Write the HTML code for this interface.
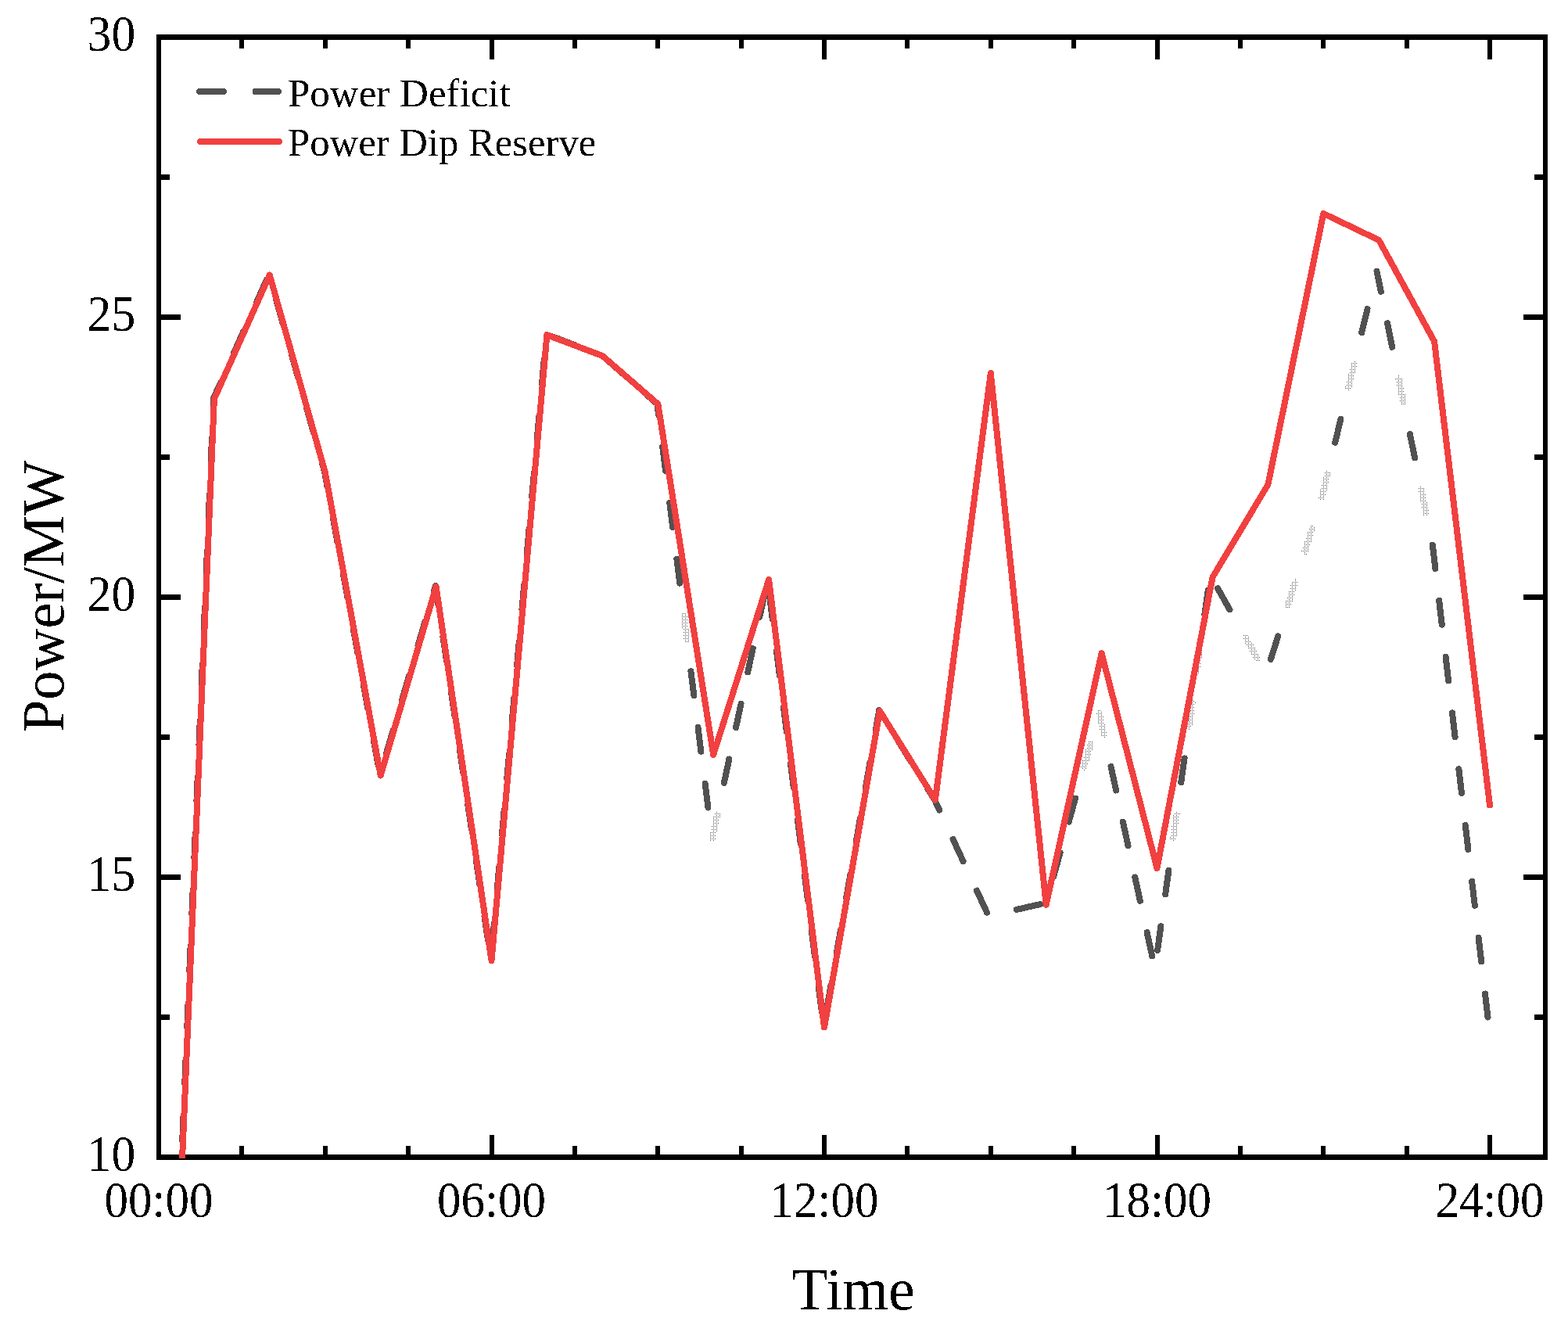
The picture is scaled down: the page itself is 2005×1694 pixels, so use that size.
<!DOCTYPE html>
<html lang="en">
<head>
<meta charset="utf-8">
<title>Power Deficit vs Power Dip Reserve</title>
<style>
html,body{margin:0;padding:0;background:#fff;}
body{width:2005px;height:1694px;overflow:hidden;position:relative;}
svg{position:absolute;left:0;top:0;display:block;}
text{font-family:"Liberation Serif",serif;fill:#000;}
.tick{font-size:61.6px;}
.title{font-size:76px;}
.leg{font-size:51px;}
</style>
</head>
<body>
<svg width="2005" height="1694" viewBox="0 0 2005 1694">
<defs>
<pattern id="dither" x="0" y="0" width="4" height="4" patternUnits="userSpaceOnUse">
<rect x="0" y="0" width="1" height="1" fill="#515151"/>
<rect x="2" y="0" width="1" height="1" fill="#515151"/>
<rect x="0" y="2" width="1" height="1" fill="#515151"/>
</pattern>
<filter id="crisp" x="-5%" y="-20%" width="110%" height="140%" color-interpolation-filters="sRGB"><feComponentTransfer><feFuncA type="discrete" tableValues="0 1"/></feComponentTransfer></filter>
<clipPath id="plot"><rect x="200" y="44" width="1779" height="1437"/></clipPath>
</defs>
<rect x="0" y="0" width="2005" height="1694" fill="#fff"/>

<g fill="#000" shape-rendering="crispEdges">
<rect x="200" y="44" width="1779" height="7"/>
<rect x="200" y="1476" width="1779" height="7"/>
<rect x="200" y="44" width="6" height="1439"/>
<rect x="1973" y="44" width="6" height="1439"/>
<rect x="306" y="51" width="6" height="11"/>
<rect x="306" y="1465" width="6" height="11"/>
<rect x="413" y="51" width="6" height="11"/>
<rect x="413" y="1465" width="6" height="11"/>
<rect x="519" y="51" width="6" height="11"/>
<rect x="519" y="1465" width="6" height="11"/>
<rect x="626" y="51" width="6" height="25"/>
<rect x="626" y="1451" width="6" height="25"/>
<rect x="732" y="51" width="6" height="11"/>
<rect x="732" y="1465" width="6" height="11"/>
<rect x="838" y="51" width="6" height="11"/>
<rect x="838" y="1465" width="6" height="11"/>
<rect x="945" y="51" width="6" height="11"/>
<rect x="945" y="1465" width="6" height="11"/>
<rect x="1051" y="51" width="6" height="25"/>
<rect x="1051" y="1451" width="6" height="25"/>
<rect x="1157" y="51" width="6" height="11"/>
<rect x="1157" y="1465" width="6" height="11"/>
<rect x="1264" y="51" width="6" height="11"/>
<rect x="1264" y="1465" width="6" height="11"/>
<rect x="1370" y="51" width="6" height="11"/>
<rect x="1370" y="1465" width="6" height="11"/>
<rect x="1477" y="51" width="6" height="25"/>
<rect x="1477" y="1451" width="6" height="25"/>
<rect x="1583" y="51" width="6" height="11"/>
<rect x="1583" y="1465" width="6" height="11"/>
<rect x="1689" y="51" width="6" height="11"/>
<rect x="1689" y="1465" width="6" height="11"/>
<rect x="1796" y="51" width="6" height="11"/>
<rect x="1796" y="1465" width="6" height="11"/>
<rect x="1902" y="51" width="6" height="25"/>
<rect x="1902" y="1451" width="6" height="25"/>
<rect x="206" y="1297" width="11" height="7"/>
<rect x="1962" y="1297" width="11" height="7"/>
<rect x="206" y="1118" width="25" height="7"/>
<rect x="1948" y="1118" width="25" height="7"/>
<rect x="206" y="939" width="11" height="7"/>
<rect x="1962" y="939" width="11" height="7"/>
<rect x="206" y="760" width="25" height="7"/>
<rect x="1948" y="760" width="25" height="7"/>
<rect x="206" y="581" width="11" height="7"/>
<rect x="1962" y="581" width="11" height="7"/>
<rect x="206" y="402" width="25" height="7"/>
<rect x="1948" y="402" width="25" height="7"/>
<rect x="206" y="223" width="11" height="7"/>
<rect x="1962" y="223" width="11" height="7"/>
</g>
<g fill="none" stroke-width="8" stroke-linecap="round" stroke-linejoin="round" shape-rendering="crispEdges" clip-path="url(#plot)">
<path stroke="url(#dither)" d="M874.4 786.56L878.28 817.31 M910.71 1071.52L917.21 1041.21 M1386.22 980.85L1394.56 950.99 M1405.6 911.5L1411.76 939.84 M1500.2 1071.77L1504.51 1041.07 M1520.31 928.57L1524.62 897.88 M1530.36 856.98L1534.67 826.28 M1592.73 815.27L1607.99 842.25 M1646.66 773.96L1655.98 744.39 M1668.39 705L1677.71 675.43 M1690.13 636.04L1690.3 635.5 M1690.3 635.5L1697.45 605.95 M1724.18 495.54L1731.47 465.41 M1788.44 484.18L1794.63 514.56 M1817.31 625.87L1823.5 656.25"/>
<path stroke="#515151" d="M202.83 2180.28L204.13 2149.31 M205.87 2108.05L207.17 2077.07 M208.9 2035.81L210.21 2004.84 M211.94 1963.57L213.24 1932.6 M214.98 1891.34L216.28 1860.37 M218.02 1819.1L219.32 1788.13 M221.05 1746.87L222.36 1715.89 M224.09 1674.63L225.39 1643.66 M227.13 1602.39L228.43 1571.42 M230.17 1530.16L231.47 1499.18 M233.2 1457.92L234.51 1426.95 M236.24 1385.68L237.54 1354.71 M239.28 1313.45L240.58 1282.48 M242.32 1241.21L243.62 1210.24 M245.35 1168.98L246.66 1138 M248.39 1096.74L249.7 1065.77 M251.43 1024.5L252.73 993.53 M254.47 952.27L255.77 921.3 M257.51 880.03L258.81 849.06 M260.54 807.8L261.85 776.82 M263.58 735.56L264.88 704.59 M266.62 663.32L267.92 632.35 M269.66 591.09L270.96 560.11 M272.69 518.85L273.1 509.2 M273.1 509.2L281.81 489.72 M298.68 452.02L311.34 423.72 M328.2 386.02L340.86 357.72 M353.1 383.05L361.49 412.89 M372.67 452.65L381.06 482.49 M392.24 522.25L400.63 552.1 M411.81 591.85L415 603.2 M415 603.2L418.46 622.1 M425.89 662.73L431.47 693.22 M438.9 733.84L444.48 764.34 M451.92 804.96L457.5 835.46 M464.93 876.08L470.51 906.58 M477.94 947.2L483.52 977.7 M493.81 963.76L502.54 934.01 M514.18 894.38L522.91 864.64 M534.54 825.01L543.28 795.27 M554.91 755.64L556.8 749.2 M556.8 749.2L560.36 773.23 M566.42 814.08L570.97 844.74 M577.03 885.6L581.58 916.26 M587.64 957.11L592.19 987.78 M598.25 1028.63L602.8 1059.3 M608.85 1100.15L613.4 1130.81 M619.46 1171.67L624.01 1202.33 M629.13 1211.1L631.86 1180.23 M635.51 1139.09L638.25 1108.21 M641.9 1067.07L644.63 1036.19 M648.28 995.05L651.02 964.17 M654.66 923.03L657.4 892.16 M661.05 851.02L663.78 820.14 M667.43 779L670.17 748.12 M673.82 706.98L676.55 676.1 M680.2 634.96L682.94 604.08 M686.58 562.95L689.32 532.07 M692.97 490.93L695.71 460.05 M706.57 430.41L735.58 441.36 M773.3 457.46L796.56 477.96 M827.55 505.26L840.3 516.5 M840.3 516.5L842.05 530.39 M847.23 571.36L851.11 602.12 M856.28 643.09L860.17 673.85 M865.34 714.83L869.22 745.58 M883.45 858.29L887.34 889.04 M892.51 930.02L896.39 960.77 M901.57 1001.75L905.45 1032.5 M925.87 1000.83L932.37 970.52 M941.04 930.14L947.54 899.83 M956.2 859.45L962.7 829.14 M971.36 788.75L977.87 758.44 M983.96 761.11L987.82 791.87 M992.97 832.84L996.83 863.6 M1001.97 904.58L1005.83 935.34 M1010.98 976.32L1014.84 1007.08 M1019.98 1048.06L1023.84 1078.81 M1028.99 1119.79L1032.85 1150.55 M1037.99 1191.53L1041.85 1222.29 M1046.99 1263.27L1050.86 1294.03 M1057.09 1290.56L1062.45 1260.03 M1069.59 1219.35L1074.94 1188.82 M1082.08 1148.14L1087.44 1117.6 M1094.58 1076.93L1099.94 1046.39 M1107.08 1005.71L1112.44 975.18 M1119.58 934.5L1124.2 908.2 M1124.2 908.2L1126.46 911.85 M1148.21 946.96L1164.54 973.31 M1186.28 1008.42L1195.5 1023.3 M1195.5 1023.3L1201.18 1035.55 M1218.56 1073.01L1231.61 1101.13 M1248.99 1138.6L1262.04 1166.72 M1299.89 1162.92L1330.13 1156.06 M1347.31 1120.11L1355.65 1090.26 M1366.76 1050.48L1375.11 1020.62 M1420.54 980.19L1427.13 1010.48 M1435.91 1050.84L1442.5 1081.13 M1451.28 1121.49L1457.87 1151.78 M1466.65 1192.14L1473.24 1222.43 M1480.1 1214.97L1484.41 1184.27 M1490.15 1143.37L1494.46 1112.67 M1510.26 1000.17L1514.57 969.47 M1540.42 785.38L1544.73 754.68 M1557.13 752.34L1572.39 779.32 M1624.92 842.91L1634.24 813.35 M1707.17 565.81L1714.46 535.68 M1741.19 425.27L1748.48 395.14 M1760.5 347L1765.77 372.87 M1774.01 413.34L1780.2 443.71 M1802.88 555.03L1809.06 585.4 M1831.74 696.72L1832 698 M1832 698L1835.37 726.8 M1840.17 767.82L1843.77 798.61 M1848.57 839.63L1852.18 870.42 M1856.98 911.44L1860.58 942.23 M1865.38 983.25L1868.98 1014.04 M1873.78 1055.06L1877.38 1085.85 M1882.18 1126.87L1885.79 1157.66 M1890.59 1198.68L1894.19 1229.47 M1898.99 1270.49L1902.5 1300.5"/>
<polyline stroke="#F14040" points="203,2196 273.9,510 344.8,351.5 415.8,604 486.7,991.5 557.6,750 628.5,1228 699.4,428.2 770.4,455 841.3,516.5 912.2,965 983.1,741 1054,1313.5 1125,909 1195.9,1022.8 1266.8,477 1337.7,1156.8 1408.6,835.2 1479.5,1110 1550.5,738 1621.4,619.5 1692.3,273 1763.2,307 1834.1,436.5 1905,1029.5"/>
</g>
<g fill="none" stroke-width="8" stroke-linecap="round" shape-rendering="crispEdges">
<path stroke="#515151" d="M255 117H286M326.5 117H356"/>
<path stroke="#F14040" d="M256 181H357"/>
</g>
<g filter="url(#crisp)">
<text class="leg" x="368" y="136">Power Deficit</text>
<text class="leg" transform="translate(368 199) scale(0.9945 1)">Power Dip Reserve</text>
<text class="tick" transform="translate(173.2 1497) scale(1 1.062)" text-anchor="end">10</text>
<text class="tick" transform="translate(173.2 1139) scale(1 1.062)" text-anchor="end">15</text>
<text class="tick" transform="translate(173.2 781) scale(1 1.062)" text-anchor="end">20</text>
<text class="tick" transform="translate(173.2 423) scale(1 1.062)" text-anchor="end">25</text>
<text class="tick" transform="translate(173.2 65) scale(1 1.062)" text-anchor="end">30</text>
<text class="tick" transform="translate(203 1556) scale(0.99 1.062)" text-anchor="middle">00:00</text>
<text class="tick" transform="translate(628.52 1556) scale(0.99 1.062)" text-anchor="middle">06:00</text>
<text class="tick" transform="translate(1054.04 1556) scale(0.99 1.062)" text-anchor="middle">12:00</text>
<text class="tick" transform="translate(1479.56 1556) scale(0.99 1.062)" text-anchor="middle">18:00</text>
<text class="tick" transform="translate(1905.08 1556) scale(0.99 1.062)" text-anchor="middle">24:00</text>
<text class="title" x="1091" y="1674" text-anchor="middle">Time</text>
<text class="title" transform="translate(81 762.3) rotate(-90) scale(0.98 1)" text-anchor="middle">Power/MW</text>
</g>
</svg>
</body>
</html>
